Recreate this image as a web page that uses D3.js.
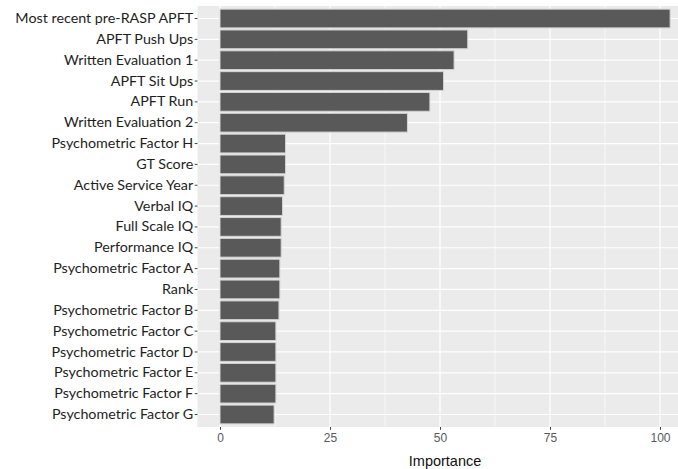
<!DOCTYPE html>
<html>
<head>
<meta charset="utf-8">
<script src="https://cdn.jsdelivr.net/npm/d3@7"></script>
<style>
  html, body { margin: 0; padding: 0; background: #fff; overflow: hidden; }
  svg { display: block; }
</style>
</head>
<body>
<div id="chart"></div>
<script>
// features, top to bottom
const features = [
  "Most recent pre-RASP APFT", "APFT Push Ups", "Written Evaluation 1", "APFT Sit Ups",
  "APFT Run", "Written Evaluation 2", "Psychometric Factor H", "GT Score",
  "Active Service Year", "Verbal IQ", "Full Scale IQ", "Performance IQ",
  "Psychometric Factor A", "Rank", "Psychometric Factor B", "Psychometric Factor C",
  "Psychometric Factor D", "Psychometric Factor E", "Psychometric Factor F", "Psychometric Factor G"
];
const importance = [
  102.3, 56.3, 53.2, 50.8, 47.7, 42.6, 14.9, 14.9,
  14.6, 14.2, 13.9, 13.9, 13.6, 13.6, 13.4, 12.7,
  12.7, 12.7, 12.7, 12.3
];
const majorTicks = [0, 25, 50, 75, 100];
const minorTicks = [12.5, 37.5, 62.5, 87.5];

const width = 678, height = 469;
const panelTop = 6, panelBottom = 427;

const svg = d3.select("#chart").append("svg")
  .attr("width", width).attr("height", height);

// ggplot style 5% expansion on continuous axis
const maxVal = d3.max(importance);
const x = d3.scaleLinear().domain([0, 100]).range([220, 660]);
const xMin = -0.05 * maxVal, xMax = maxVal * 1.05;

const y = d3.scaleBand().domain(features).range([panelTop, panelBottom])
  .paddingInner(0.1).paddingOuter(0.15);

// panel
svg.append("rect")
  .attr("x", x(xMin)).attr("y", panelTop)
  .attr("width", x(xMax) - x(xMin)).attr("height", panelBottom - panelTop)
  .attr("fill", "#ebebeb");

// minor grid
svg.selectAll("line.minor").data(minorTicks).enter().append("line")
  .attr("x1", d => x(d)).attr("x2", d => x(d))
  .attr("y1", panelTop).attr("y2", panelBottom)
  .attr("stroke", "#fff").attr("stroke-width", 0.6);

// major grid
svg.selectAll("line.majx").data(majorTicks).enter().append("line")
  .attr("x1", d => x(d)).attr("x2", d => x(d))
  .attr("y1", panelTop).attr("y2", panelBottom)
  .attr("stroke", "#fff").attr("stroke-width", 1.2);

svg.selectAll("line.majy").data(features).enter().append("line")
  .attr("x1", x(xMin)).attr("x2", x(xMax))
  .attr("y1", d => y(d) + y.bandwidth() / 2).attr("y2", d => y(d) + y.bandwidth() / 2)
  .attr("stroke", "#fff").attr("stroke-width", 1.2);

// bars
svg.selectAll("rect.bar").data(features).enter().append("rect")
  .attr("x", x(0))
  .attr("y", d => y(d))
  .attr("width", (d, i) => x(importance[i]) - x(0))
  .attr("height", y.bandwidth())
  .attr("fill", "#595959")
  .attr("stroke", "#d4d4d4").attr("stroke-width", 1);

// y axis
const yAxis = svg.append("g").attr("transform", `translate(${x(xMin)},0)`)
  .call(d3.axisLeft(y).tickSize(2.8).tickPadding(1.5));
yAxis.select(".domain").remove();
yAxis.selectAll("line").attr("stroke", "#444");
yAxis.selectAll("text")
  .attr("fill", "#1e1e1e")
  .style("font-family", "Lato, 'Open Sans', sans-serif")
  .style("font-size", "14.3px");

// x axis
const xAxis = svg.append("g").attr("transform", `translate(0,${panelBottom})`)
  .call(d3.axisBottom(x).tickValues(majorTicks).tickSize(2.8).tickPadding(4));
xAxis.select(".domain").remove();
xAxis.selectAll("line").attr("stroke", "#444");
xAxis.selectAll("text")
  .attr("fill", "#555a60")
  .style("font-family", "'Liberation Sans', Arial, sans-serif")
  .style("font-size", "12px");

svg.append("text")
  .attr("x", (x(xMin) + x(xMax)) / 2)
  .attr("y", 466)
  .attr("text-anchor", "middle")
  .attr("fill", "#111")
  .style("font-family", "'Liberation Sans', Arial, sans-serif")
  .style("font-size", "14.5px")
  .text("Importance");
</script>
</body>
</html>
